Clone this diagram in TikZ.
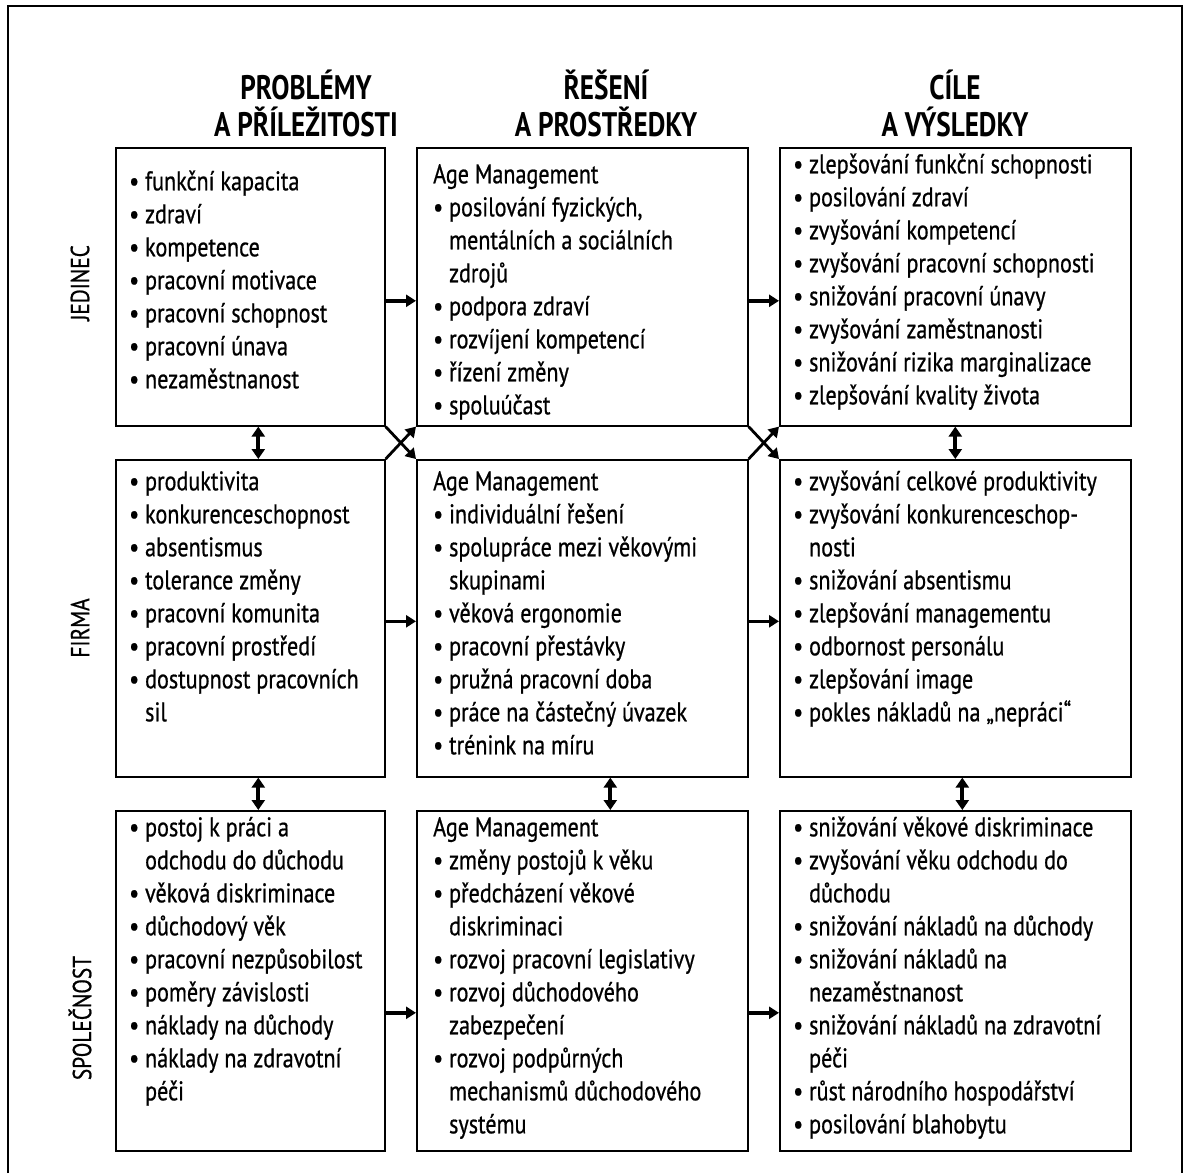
\documentclass[tikz,border=0pt]{standalone}
\usepackage{fontspec}
\setmainfont[FakeStretch=0.8]{PT Sans}
\newfontfamily\bodyfont[FakeStretch=0.82,FakeBold=0.7]{PT Sans}
\usetikzlibrary{arrows.meta}
\newcommand{\cont}{\hphantom{•\ }}

\begin{document}
\begin{tikzpicture}[
        x=1pt,y=-1pt,
        box/.style={draw=black,line width=1.6pt,inner sep=0pt,anchor=north west},
        txt/.style={anchor=north west,inner sep=0pt,align=left,font=\bodyfont\fontsize{27}{33}\selectfont},
        head/.style={align=center,font=\fontsize{34}{37}\selectfont\bfseries},
        side/.style={rotate=90,font=\bodyfont\fontsize{26}{30}\selectfont},
        arr/.style={-{Triangle[length=10pt,width=12pt]},line width=3.6pt},
        both/.style={{Triangle[length=10pt,width=13pt]}-{Triangle[length=10pt,width=13pt]},line width=3.8pt}
    ]
        \useasboundingbox (0,0) rectangle (1183,1173);
        \draw[line width=1.8pt] (8,1173) -- (8,6) -- (1182,6) -- (1182,1173);

        % headers
        \node[head] (hp) at (306,103) {PROBLÉMY\\A PŘÍLEŽITOSTI};
        \node[head] (hs) at (606,103) {ŘEŠENÍ\\A PROSTŘEDKY};
        \node[head] (hc) at (955,103) {CÍLE\\A VÝSLEDKY};

        \node[side] (jed) at (80,283) {JEDINEC};
        \node[side] (fir) at (80,628) {FIRMA};
        \node[side] (spo) at (80,1018) {SPOLEČNOST};

        % boxes
        \node[box,minimum width=269pt,minimum height=278pt] (p1) at (115,147) {};
        \node[box,minimum width=331pt,minimum height=278pt] (s1) at (416,147) {};
        \node[box,minimum width=351pt,minimum height=278pt] (c1) at (779,147) {};
        \node[box,minimum width=269pt,minimum height=317pt] (p2) at (115,459) {};
        \node[box,minimum width=331pt,minimum height=317pt] (s2) at (416,459) {};
        \node[box,minimum width=351pt,minimum height=317pt] (c2) at (779,459) {};
        \node[box,minimum width=269pt,minimum height=340pt] (p3) at (115,810) {};
        \node[box,minimum width=331pt,minimum height=340pt] (s3) at (416,810) {};
        \node[box,minimum width=351pt,minimum height=340pt] (c3) at (779,810) {};

        % texts
        \node[txt] (p1t) at ([xshift=14pt,yshift=-20pt]p1.north west) {\strut• funkční kapacita\\• zdraví\\• kompetence\\• pracovní motivace\\• pracovní schopnost\\• pracovní únava\\• nezaměstnanost};
        \node[txt] (s1t) at ([xshift=17pt,yshift=-13pt]s1.north west) {\strut Age Management\\• posilování fyzických,\\\cont mentálních a sociálních\\\cont zdrojů\\• podpora zdraví\\• rozvíjení kompetencí\\• řízení změny\\• spoluúčast};
        \node[txt] (c1t) at ([xshift=14pt,yshift=-3pt]c1.north west) {\strut• zlepšování funkční schopnosti\\• posilování zdraví\\• zvyšování kompetencí\\• zvyšování pracovní schopnosti\\• snižování pracovní únavy\\• zvyšování zaměstnanosti\\• snižování rizika marginalizace\\• zlepšování kvality života};
        \node[txt] (p2t) at ([xshift=14pt,yshift=-8pt]p2.north west) {\strut• produktivita\\• konkurenceschopnost\\• absentismus\\• tolerance změny\\• pracovní komunita\\• pracovní prostředí\\• dostupnost pracovních\\\cont sil};
        \node[txt] (s2t) at ([xshift=17pt,yshift=-8pt]s2.north west) {\strut Age Management\\• individuální řešení\\• spolupráce mezi věkovými\\\cont skupinami\\• věková ergonomie\\• pracovní přestávky\\• pružná pracovní doba\\• práce na částečný úvazek\\• trénink na míru};
        \node[txt] (c2t) at ([xshift=14pt,yshift=-8pt]c2.north west) {\strut• zvyšování celkové produktivity\\• zvyšování konkurenceschop-\\\cont nosti\\• snižování absentismu\\• zlepšování managementu\\• odbornost personálu\\• zlepšování image\\• pokles nákladů na „nepráci“};
        \node[txt] (p3t) at ([xshift=14pt,yshift=-3pt]p3.north west) {\strut• postoj k práci a\\\cont odchodu do důchodu\\• věková diskriminace\\• důchodový věk\\• pracovní nezpůsobilost\\• poměry závislosti\\• náklady na důchody\\• náklady na zdravotní\\\cont péči};
        \node[txt] (s3t) at ([xshift=17pt,yshift=-3pt]s3.north west) {\strut Age Management\\• změny postojů k věku\\• předcházení věkové\\\cont diskriminaci\\• rozvoj pracovní legislativy\\• rozvoj důchodového\\\cont zabezpečení\\• rozvoj podpůrných\\\cont mechanismů důchodového\\\cont systému};
        \node[txt] (c3t) at ([xshift=14pt,yshift=-3pt]c3.north west) {\strut• snižování věkové diskriminace\\• zvyšování věku odchodu do\\\cont důchodu\\• snižování nákladů na důchody\\• snižování nákladů na\\\cont nezaměstnanost\\• snižování nákladů na zdravotní\\\cont péči\\• růst národního hospodářství\\• posilování blahobytu};

        % arrows
        \draw[arr] ([yshift=-14pt]p1.east) -- ([yshift=-14pt]s1.west);
        \draw[arr] ([yshift=-14pt]s1.east) -- ([yshift=-14pt]c1.west);
        \draw[arr] ([yshift=-3pt]p2.east) -- ([yshift=-3pt]s2.west);
        \draw[arr] ([yshift=-3pt]s2.east) -- ([yshift=-3pt]c2.west);
        \draw[arr] ([yshift=-32pt]p3.east) -- ([yshift=-32pt]s3.west);
        \draw[arr] ([yshift=-32pt]s3.east) -- ([yshift=-32pt]c3.west);

        \draw[arr,line width=2.8pt] (p1.south east) -- (s2.north west);
        \draw[arr,line width=2.8pt] (p2.north east) -- (s1.south west);
        \draw[arr,line width=2.8pt] (s1.south east) -- (c2.north west);
        \draw[arr,line width=2.8pt] (s2.north east) -- (c1.south west);

        \draw[both] ([xshift=8pt]p1.south) -- ([xshift=8pt]p2.north);
        \draw[both] (c1.south) -- (c2.north);
        \draw[both] ([xshift=8pt]p2.south) -- ([xshift=8pt]p3.north);
        \draw[both] ([xshift=28pt]s2.south) -- ([xshift=28pt]s3.north);
        \draw[both] ([xshift=7pt]c2.south) -- ([xshift=7pt]c3.north);
    \end{tikzpicture}
\end{document}
